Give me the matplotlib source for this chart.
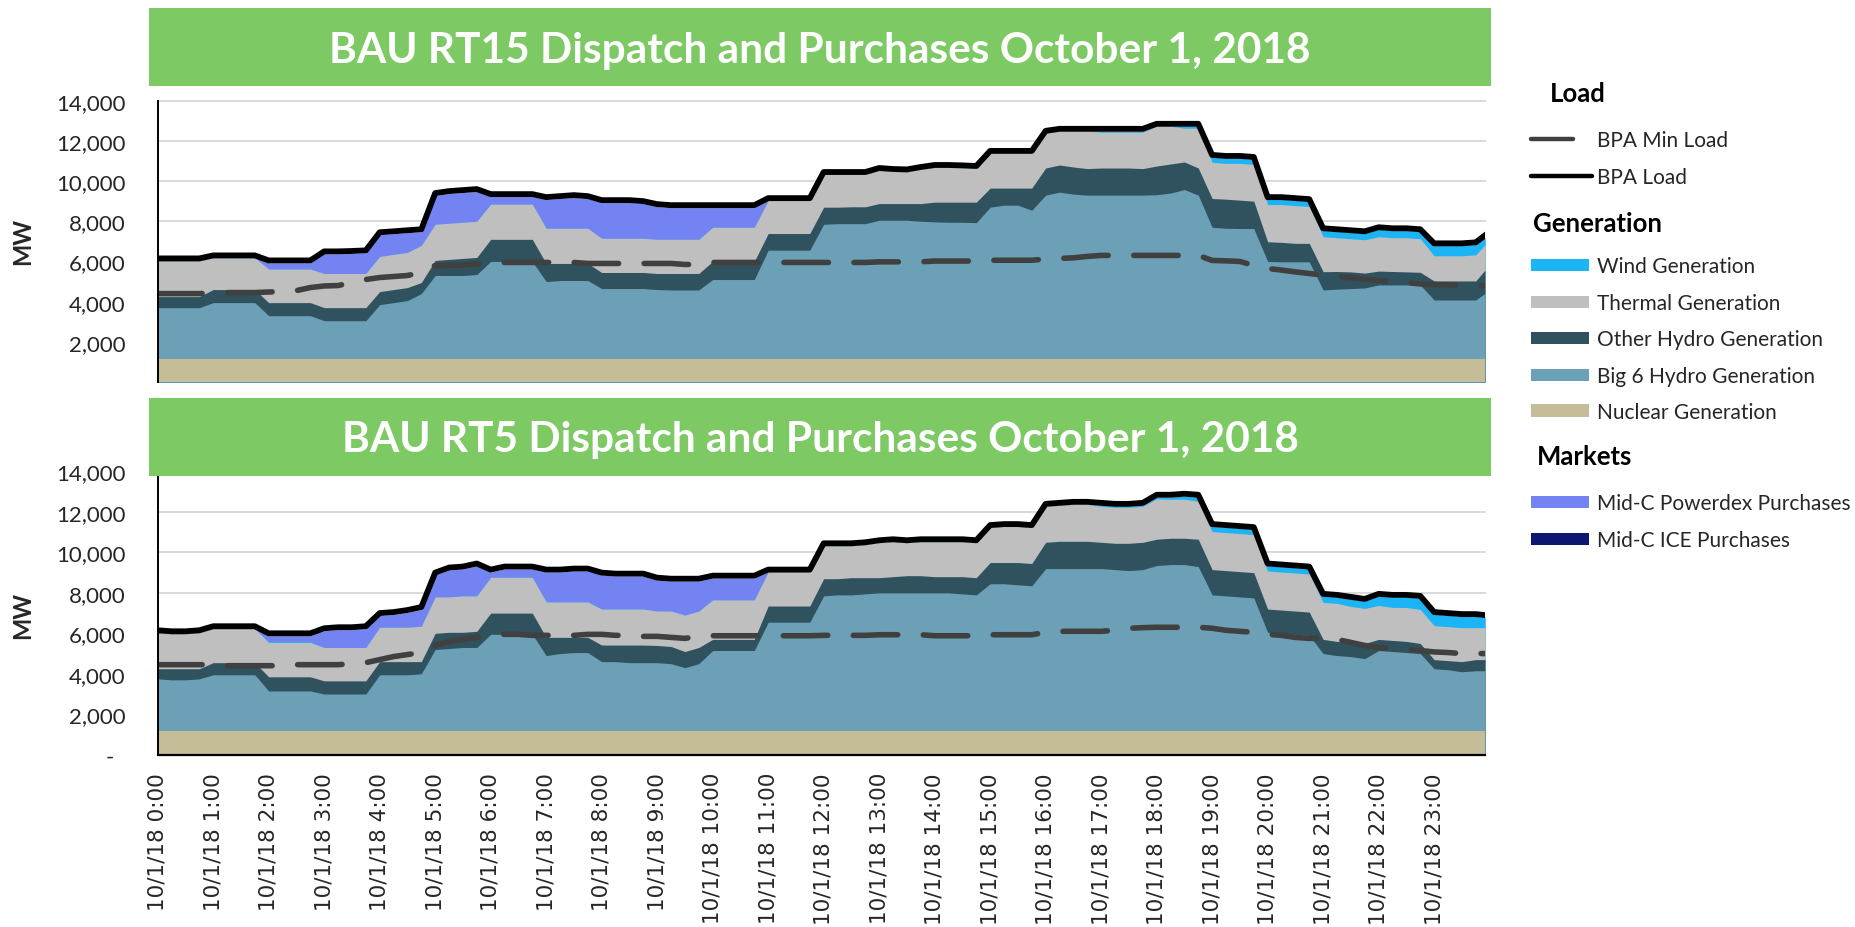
import numpy as np
import matplotlib
matplotlib.use("Agg")
import matplotlib.pyplot as plt
from matplotlib.patches import Rectangle
from matplotlib.lines import Line2D

plt.rcParams["font.family"] = ["Lato", "DejaVu Sans"]

W, H = 1856, 928  # figure size in pixels at dpi 100

# 15-minute points through the day, plus the last 5-minute interval (23:55)
HOURS = np.append(np.arange(96) * 0.25, 23 + 55 / 60)
NUCLEAR_MW = 1150

# ---- RT15 (top panel), MW ----
rt15_load = [
    6150, 6150, 6150, 6150, 6300, 6300, 6300, 6300, 6050, 6050, 6050, 6050, 6500, 6500, 6520, 6550, 7450, 7500, 7550, 7600, 9400, 9500, 9550, 9600,
    9350, 9350, 9350, 9350, 9200, 9250, 9300, 9250, 9050, 9050, 9050, 9000, 8850, 8800, 8800, 8800, 8800, 8800, 8800, 8800, 9150, 9150, 9150, 9150,
    10450, 10450, 10450, 10450, 10650, 10600, 10580, 10700, 10800, 10800, 10780, 10750, 11500, 11500, 11500, 11500, 12500, 12600, 12600, 12600, 12600, 12600, 12600, 12600,
    12850, 12850, 12850, 12850, 11300, 11250, 11250, 11200, 9200, 9200, 9150, 9100, 7650, 7600, 7550, 7500, 7700, 7650, 7650, 7600, 6900, 6900, 6900, 6950,
    7300,
]
rt15_min_load = [
    4400, 4400, 4400, 4400, 4420, 4450, 4450, 4450, 4480, 4500, 4550, 4700, 4780, 4800, 4950, 5100, 5200, 5250, 5300, 5450, 5800, 5800, 5820, 5870,
    5950, 5950, 5950, 5950, 5950, 5950, 5950, 5900, 5900, 5900, 5900, 5900, 5900, 5900, 5850, 5850, 5950, 5950, 5950, 5950, 5950, 5950, 5950, 5950,
    5950, 5950, 5950, 5950, 5980, 5980, 5980, 5980, 6020, 6020, 6020, 6020, 6060, 6060, 6060, 6060, 6120, 6150, 6180, 6250, 6300, 6300, 6300, 6300,
    6300, 6300, 6300, 6300, 6050, 6030, 6000, 5800, 5650, 5570, 5480, 5400, 5320, 5250, 5190, 5120, 5050, 5000, 4950, 4880, 4850, 4830, 4800, 4790,
    4790,
]
rt15_big6 = [
    2550, 2550, 2550, 2550, 2800, 2800, 2800, 2800, 2150, 2150, 2150, 2150, 1900, 1900, 1900, 1900, 2700, 2800, 2900, 3250, 4150, 4150, 4150, 4200,
    4850, 4850, 4850, 4850, 3850, 3900, 3900, 3900, 3500, 3500, 3500, 3500, 3450, 3430, 3430, 3430, 3950, 3950, 3950, 3950, 5410, 5410, 5410, 5410,
    6700, 6730, 6730, 6730, 6900, 6900, 6900, 6850, 6820, 6800, 6800, 6780, 7550, 7650, 7650, 7400, 8150, 8300, 8200, 8150, 8150, 8150, 8150, 8150,
    8170, 8250, 8430, 8150, 6550, 6500, 6490, 6490, 4850, 4830, 4830, 4830, 3430, 3470, 3500, 3530, 3680, 3680, 3680, 3680, 2930, 2930, 2930, 2930,
    3260,
]
rt15_other_hydro = [
    550, 550, 550, 550, 650, 650, 650, 650, 650, 650, 650, 650, 650, 650, 650, 650, 650, 650, 650, 550, 750, 800, 850, 850,
    1100, 1100, 1100, 1100, 900, 850, 850, 850, 800, 800, 800, 800, 800, 820, 820, 820, 900, 900, 900, 900, 830, 830, 830, 830,
    850, 820, 840, 840, 830, 830, 830, 880, 980, 1000, 1000, 1020, 950, 850, 850, 1100, 1350, 1350, 1350, 1320, 1350, 1350, 1350, 1320,
    1430, 1450, 1370, 1350, 1430, 1450, 1410, 1360, 980, 970, 920, 920, 910, 880, 830, 740, 690, 670, 650, 630, 950, 950, 950, 950,
    1160,
]
rt15_thermal = [
    1780, 1780, 1780, 1780, 1580, 1580, 1580, 1580, 1670, 1670, 1670, 1670, 1700, 1700, 1700, 1700, 1750, 1750, 1750, 1850, 1800, 1800, 1800, 1800,
    1750, 1750, 1750, 1750, 1750, 1750, 1750, 1750, 1700, 1700, 1700, 1700, 1700, 1700, 1700, 1700, 1700, 1700, 1700, 1700, 1640, 1640, 1640, 1640,
    1630, 1630, 1610, 1610, 1650, 1600, 1580, 1700, 1730, 1730, 1710, 1680, 1730, 1730, 1730, 1730, 1730, 1680, 1780, 1860, 1780, 1780, 1780, 1810,
    1980, 1880, 1680, 1980, 1800, 1780, 1830, 1830, 1850, 1880, 1880, 1830, 1740, 1680, 1650, 1660, 1710, 1680, 1700, 1670, 1250, 1250, 1250, 1300,
    1260,
]
rt15_wind = [0] * 68 + [
    50, 50, 50, 50,
    0, 0, 100, 100, 250, 250, 250, 250, 250, 250, 250, 250, 300, 300, 300, 300, 350, 350, 350, 350, 500, 500, 500, 500,
    350,
]
rt15_powerdex = [
    0, 0, 0, 0, 0, 0, 0, 0, 310, 310, 310, 310, 980, 980, 1000, 1030, 1080, 1030, 980, 680, 1430, 1480, 1480, 1480,
    380, 380, 380, 380, 1430, 1480, 1530, 1480, 1780, 1780, 1780, 1730, 1630, 1580, 1580, 1580, 980, 980, 980, 980,
] + [0] * 53

# ---- RT5 (bottom panel), MW ----
rt5_load = [
    6150, 6100, 6100, 6150, 6350, 6350, 6350, 6350, 6000, 6000, 6000, 6000, 6250, 6300, 6300, 6350, 7000, 7050, 7150, 7300, 9000, 9250, 9300, 9450,
    9150, 9300, 9300, 9300, 9150, 9150, 9200, 9200, 9000, 8950, 8950, 8950, 8750, 8700, 8700, 8700, 8850, 8850, 8850, 8850, 9150, 9150, 9150, 9150,
    10450, 10450, 10450, 10500, 10600, 10650, 10600, 10650, 10650, 10650, 10650, 10600, 11350, 11400, 11400, 11350, 12400, 12450, 12500, 12500, 12450, 12400, 12400, 12450,
    12850, 12850, 12900, 12850, 11400, 11350, 11300, 11250, 9450, 9400, 9350, 9300, 7950, 7900, 7800, 7700, 7950, 7900, 7900, 7850, 7050, 7000, 6950, 6950,
    6900,
]
rt5_min_load = [
    4450, 4450, 4450, 4450, 4450, 4400, 4400, 4400, 4400, 4400, 4450, 4450, 4450, 4450, 4500, 4550, 4700, 4850, 4950, 5050, 5400, 5600, 5700, 5800,
    5950, 5950, 5950, 5900, 5900, 5900, 5900, 5950, 5950, 5900, 5900, 5850, 5850, 5800, 5750, 5850, 5880, 5880, 5880, 5880, 5880, 5880, 5880, 5880,
    5900, 5900, 5900, 5900, 5930, 5930, 5930, 5930, 5880, 5880, 5880, 5880, 5930, 5930, 5930, 5930, 6050, 6100, 6100, 6100, 6100, 6150, 6250, 6280,
    6300, 6300, 6300, 6300, 6250, 6150, 6100, 6050, 5950, 5900, 5800, 5750, 5750, 5700, 5550, 5400, 5300, 5250, 5200, 5150, 5080, 5050, 5000, 5000,
    5000,
]
rt5_big6 = [
    2600, 2550, 2550, 2600, 2800, 2800, 2800, 2800, 2000, 2000, 2000, 2000, 1850, 1850, 1850, 1850, 2800, 2800, 2800, 2850, 4050, 4100, 4150, 4150,
    4800, 4800, 4800, 4800, 3750, 3850, 3900, 3900, 3450, 3450, 3400, 3400, 3400, 3350, 3150, 3350, 4000, 4000, 4000, 4000, 5400, 5400, 5400, 5400,
    6700, 6750, 6750, 6800, 6850, 6850, 6850, 6850, 6850, 6850, 6800, 6750, 7300, 7300, 7250, 7200, 8050, 8050, 8050, 8050, 8050, 8000, 7950, 8000,
    8200, 8250, 8250, 8150, 6750, 6700, 6650, 6600, 4900, 4850, 4800, 4750, 3850, 3750, 3700, 3600, 4000, 3950, 3900, 3850, 3100, 3050, 2950, 3000,
    3000,
]
rt5_other_hydro = [
    500, 550, 550, 500, 600, 600, 600, 600, 700, 700, 700, 700, 650, 650, 650, 650, 650, 650, 650, 600, 800, 800, 750, 800,
    1050, 1050, 1050, 1050, 900, 800, 750, 750, 820, 820, 870, 870, 850, 850, 800, 800, 550, 550, 550, 550, 800, 800, 800, 800,
    850, 800, 850, 800, 750, 800, 850, 850, 800, 800, 850, 850, 1050, 1050, 1100, 1100, 1300, 1350, 1350, 1350, 1300, 1300, 1350, 1350,
    1300, 1300, 1300, 1350, 1250, 1250, 1250, 1250, 1150, 1150, 1150, 1150, 700, 700, 700, 750, 550, 550, 550, 500, 450, 450, 500, 550,
    550,
]
rt5_thermal = [
    1780, 1730, 1730, 1780, 1680, 1680, 1680, 1680, 1700, 1700, 1700, 1700, 1650, 1650, 1650, 1650, 1700, 1700, 1700, 1750, 1800, 1750, 1800, 1750,
    1770, 1770, 1770, 1770, 1750, 1750, 1750, 1750, 1780, 1780, 1780, 1780, 1700, 1750, 1800, 1800, 1950, 1950, 1950, 1950, 1680, 1680, 1680, 1680,
    1630, 1630, 1580, 1630, 1730, 1730, 1630, 1680, 1730, 1730, 1730, 1730, 1730, 1780, 1780, 1780, 1780, 1780, 1830, 1830, 1780, 1780, 1780, 1780,
    2000, 1930, 1930, 1880, 1880, 1880, 1880, 1880, 1880, 1880, 1880, 1880, 1830, 1880, 1780, 1730, 1680, 1630, 1680, 1680, 1680, 1680, 1680, 1580,
    1580,
]
rt5_wind = [0] * 8 + [50, 50, 50, 50] + [0] * 56 + [
    50, 50, 50, 50,
    80, 100, 150, 200, 250, 250, 250, 250, 250, 250, 250, 250, 300, 300, 350, 350, 450, 500, 500, 550, 550, 550, 550, 550,
    500,
]
rt5_powerdex = [
    0, 0, 0, 0, 0, 0, 0, 0, 280, 280, 280, 280, 830, 880, 880, 930, 580, 630, 730, 830, 1080, 1330, 1330, 1480,
    260, 410, 410, 410, 1480, 1480, 1530, 1530, 1680, 1630, 1630, 1630, 1530, 1480, 1680, 1480, 1080, 1080, 1080, 1080,
] + [0] * 53

HOUR_LABELS = [f"10/1/18 {h}:00" for h in range(24)]

# stack order, bottom to top
STACK_NAMES = ["Nuclear Generation", "Big 6 Hydro Generation", "Other Hydro Generation",
               "Thermal Generation", "Wind Generation", "Mid-C Powerdex Purchases"]
STACK_COLORS = ["#C4BD97", "#6CA0B6", "#30525F", "#BFBFBF", "#1BB4F4", "#7383F2"]
ICE_COLOR = "#0B1670"
MIN_LOAD_COLOR = "#404040"
BANNER_GREEN = "#7DCA64"
TEXT_COLOR = "#262626"


def fx(px):
    return px / W


def fy(py):
    return 1 - py / H


def draw_dispatch(ax, load, min_load, big6, other, thermal, wind, powerdex):
    nuclear = np.full(len(HOURS), NUCLEAR_MW)
    layers = np.array([nuclear, big6, other, thermal, wind, powerdex], dtype=float)
    tops = np.cumsum(layers, axis=0)
    # paint from the top layer down so neighbouring areas never leave seams
    for top, color in reversed(list(zip(tops, STACK_COLORS))):
        ax.fill_between(HOURS, 0, top, color=color, linewidth=0, zorder=2)

    ax.plot(HOURS, min_load, color=MIN_LOAD_COLOR, lw=4.0,
            linestyle=(0, (8.0, 4.6)), dash_capstyle="round", zorder=4)
    ax.plot(HOURS, load, color="black", lw=4.2, solid_joinstyle="round", zorder=5)

    ax.set_xlim(0, HOURS[-1])
    ax.set_ylim(0, 14000)
    ax.set_yticks(range(0, 14001, 2000))
    ax.yaxis.grid(True, color="#D9D9D9", lw=1.4, zorder=0)
    ax.set_axisbelow(True)
    for gl in ax.get_ygridlines():
        gl.set_clip_on(False)
    ax.tick_params(axis="y", length=0, pad=23, labelsize=16, labelcolor=TEXT_COLOR)
    for side in ["top", "right"]:
        ax.spines[side].set_visible(False)
    ax.spines["left"].set_color("black")
    ax.spines["left"].set_linewidth(1.4)
    ax.spines["left"].set_zorder(6)


fig = plt.figure(figsize=(W / 100, H / 100), dpi=100)
fig.patch.set_facecolor("white")

ax_top = fig.add_axes([fx(157.7), fy(383), fx(1485 - 157.7), (383 - 101.7) / H])
ax_bot = fig.add_axes([fx(157.7), fy(755.7), fx(1485 - 157.7), (755.7 - 472.5) / H])

draw_dispatch(ax_top, rt15_load, rt15_min_load, rt15_big6, rt15_other_hydro,
              rt15_thermal, rt15_wind, rt15_powerdex)
draw_dispatch(ax_bot, rt5_load, rt5_min_load, rt5_big6, rt5_other_hydro,
              rt5_thermal, rt5_wind, rt5_powerdex)

ax_top.set_yticklabels([""] + [f"{v:,}" for v in range(2000, 14001, 2000)])
ax_bot.set_yticklabels(["-  "] + [f"{v:,}" for v in range(2000, 14001, 2000)])

ax_top.spines["bottom"].set_visible(False)
ax_top.set_xticks([])

ax_bot.spines["bottom"].set_color("black")
ax_bot.spines["bottom"].set_linewidth(1.6)
ax_bot.spines["bottom"].set_zorder(6)
ax_bot.set_xticks(range(24))
ax_bot.set_xticklabels(HOUR_LABELS, rotation=90, fontsize=15.5,
                       family="DejaVu Sans", color=TEXT_COLOR)
ax_bot.tick_params(axis="x", which="major", length=0, pad=12.5)
ax_bot.set_xticks(range(0, 24, 2), minor=True)
ax_bot.tick_params(axis="x", which="minor", length=5, width=1.5, color="black")

# MW axis titles
for yc in (241, 615):
    fig.text(fx(23), fy(yc), "MW", rotation=90, ha="center", va="center",
             fontsize=17, fontweight="bold", color=TEXT_COLOR)

# green title banners
banners = [(9, 87, 63, "BAU RT15 Dispatch and Purchases October 1, 2018"),
           (399, 477, 452, "BAU RT5 Dispatch and Purchases October 1, 2018")]
for top_px, bot_px, base_px, title in banners:
    fig.add_artist(Rectangle((fx(149), fy(bot_px)), fx(1491 - 149), (bot_px - top_px) / H,
                             transform=fig.transFigure, facecolor=BANNER_GREEN,
                             edgecolor="none", zorder=5))
    fig.text(fx(820), fy(base_px), title, ha="center", va="baseline", color="white",
             fontsize=30.5, fontweight="bold", zorder=6)

# grouped legend on the right
headers = [("Load", 1550, 101.7), ("Generation", 1533, 232), ("Markets", 1537, 465)]
for label, x, base in headers:
    fig.text(fx(x), fy(base), label, ha="left", va="baseline", fontsize=18.5,
             fontweight="bold", color="black")

line_items = [("BPA Min Load", MIN_LOAD_COLOR, 1573, 139.5, 147),
              ("BPA Load", "black", 1592, 176.5, 184)]
for label, color, x_end, yc, base in line_items:
    fig.add_artist(Line2D([fx(1531), fx(x_end)], [fy(yc), fy(yc)], transform=fig.transFigure,
                          color=color, lw=3.2, solid_capstyle="round"))
    fig.text(fx(1597), fy(base), label, ha="left", va="baseline", fontsize=15, color=TEXT_COLOR)

patch_items = [("Wind Generation", STACK_COLORS[4], 266, 273),
               ("Thermal Generation", STACK_COLORS[3], 302.5, 310),
               ("Other Hydro Generation", STACK_COLORS[2], 339, 346),
               ("Big 6 Hydro Generation", STACK_COLORS[1], 375.5, 383),
               ("Nuclear Generation", STACK_COLORS[0], 411.5, 419),
               ("Mid-C Powerdex Purchases", STACK_COLORS[5], 502.5, 510),
               ("Mid-C ICE Purchases", ICE_COLOR, 539.5, 547)]
for label, color, yc, base in patch_items:
    fig.add_artist(Rectangle((fx(1531), fy(yc + 6)), fx(58), 12 / H,
                             transform=fig.transFigure, facecolor=color, edgecolor="none"))
    fig.text(fx(1597), fy(base), label, ha="left", va="baseline", fontsize=15, color=TEXT_COLOR)

fig.savefig("out.png", dpi=100)
